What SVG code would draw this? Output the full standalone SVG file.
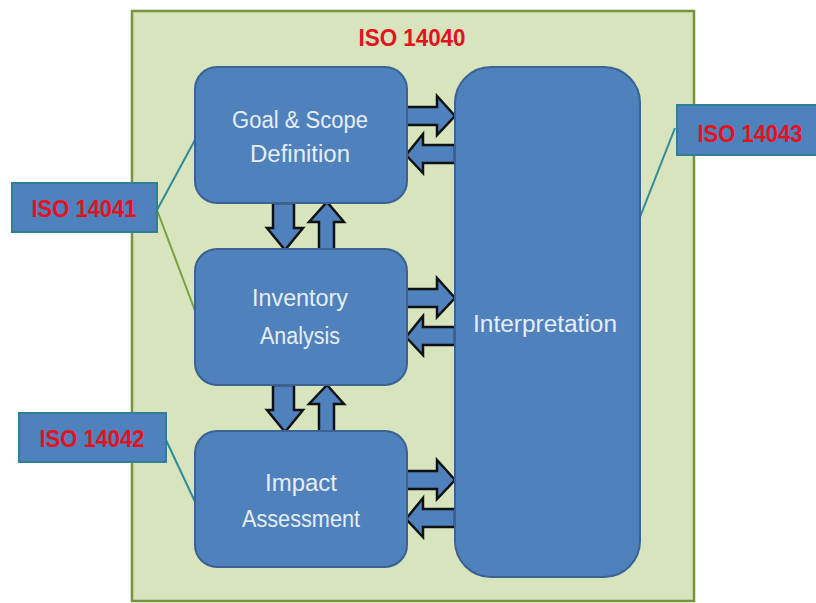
<svg xmlns="http://www.w3.org/2000/svg" width="816" height="603" viewBox="0 0 816 603">
<style>
.box{fill:#4f81bd;stroke:#3b6290;stroke-width:2}
.lbl{fill:#4f81bd;stroke:#2f7f95;stroke-width:2}
.t{font-family:"Liberation Sans",Arial,sans-serif;font-size:23px;fill:#e6eef8;text-anchor:middle}
.r{font-family:"Liberation Sans",Arial,sans-serif;font-size:24px;font-weight:bold;fill:#e3121e;text-anchor:middle}
.arr{fill:#4f81bd;stroke:#111;stroke-width:2.5;stroke-linejoin:miter}
.ln{fill:none;stroke:#2f8a9a;stroke-width:2}
.lg{fill:none;stroke:#77a040;stroke-width:2}
</style>
<rect width="816" height="603" fill="#fff"/>
<g id="outer">
<rect x="132" y="11" width="562" height="590" fill="#d7e4bd" stroke="#77933c" stroke-width="2.5"/>
<text class="r" x="412" y="46" textLength="107" lengthAdjust="spacingAndGlyphs">ISO 14040</text>
</g>
<g id="connectors">
<line class="ln" x1="157" y1="210" x2="196" y2="138"/>
<line class="lg" x1="157" y1="210" x2="197" y2="316"/>
<line class="ln" x1="166" y1="440" x2="197" y2="506"/>
<line class="ln" x1="675" y1="128" x2="631" y2="240"/>
<path class="arr" d="M405,107 H437 V96 L455,116 L437,135 V125 H405 Z"/>
<path class="arr" d="M455,145 H423 V134 L406,155 L423,173 V163 H455 Z"/>
<path class="arr" d="M405,289 H437 V278 L455,298 L437,317 V307 H405 Z"/>
<path class="arr" d="M455,327 H423 V316 L406,337 L423,355 V345 H455 Z"/>
<path class="arr" d="M405,471 H437 V460 L455,480 L437,499 V489 H405 Z"/>
<path class="arr" d="M455,509 H423 V498 L406,519 L423,537 V527 H455 Z"/>
<path class="arr" d="M273,203 V228 H267 L285,250 L303,228 H294 V203 Z"/>
<path class="arr" d="M319,250 V222 H309 L327,202 L344,222 H334 V250 Z"/>
<path class="arr" d="M273,385 V410 H267 L285,432 L303,410 H294 V385 Z"/>
<path class="arr" d="M319,432 V404 H309 L327,385 L344,404 H334 V432 Z"/>
</g>
<g id="goal">
<rect class="box" x="195" y="67" width="212" height="136" rx="22"/>
<text class="t" x="300" y="128" textLength="136" lengthAdjust="spacingAndGlyphs">Goal &amp; Scope</text>
<text class="t" x="300" y="162" textLength="100" lengthAdjust="spacingAndGlyphs">Definition</text>
</g>
<g id="inventory">
<rect class="box" x="195" y="249" width="212" height="136" rx="22"/>
<text class="t" x="300" y="306" textLength="96" lengthAdjust="spacingAndGlyphs">Inventory</text>
<text class="t" x="300" y="344" textLength="80" lengthAdjust="spacingAndGlyphs">Analysis</text>
</g>
<g id="impact">
<rect class="box" x="195" y="431" width="212" height="136" rx="22"/>
<text class="t" x="301" y="491" textLength="72" lengthAdjust="spacingAndGlyphs">Impact</text>
<text class="t" x="301" y="527" textLength="118" lengthAdjust="spacingAndGlyphs">Assessment</text>
</g>
<g id="interpretation">
<rect class="box" x="455" y="67" width="185" height="510" rx="36"/>
<text class="t" x="545" y="332" textLength="144" lengthAdjust="spacingAndGlyphs">Interpretation</text>
</g>
<g id="iso14041">
<rect class="lbl" x="12" y="183" width="145" height="49"/>
<text class="r" x="84" y="217" textLength="105" lengthAdjust="spacingAndGlyphs">ISO 14041</text>
</g>
<g id="iso14042">
<rect class="lbl" x="19" y="413" width="147" height="49"/>
<text class="r" x="92" y="447" textLength="105" lengthAdjust="spacingAndGlyphs">ISO 14042</text>
</g>
<g id="iso14043">
<rect class="lbl" x="677" y="105" width="140" height="50"/>
<text class="r" x="750" y="142" textLength="105" lengthAdjust="spacingAndGlyphs">ISO 14043</text>
</g>
</svg>
